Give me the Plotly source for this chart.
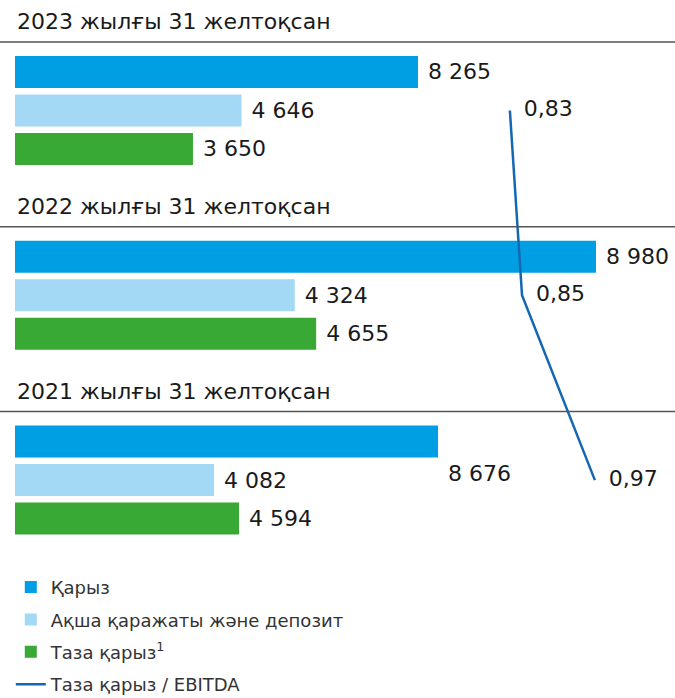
import plotly.graph_objects as go

# ---- data ----
headers = ["2023 жылғы 31 желтоқсан", "2022 жылғы 31 желтоқсан", "2021 жылғы 31 желтоқсан"]
series_names = ["Қарыз", "Ақша қаражаты және депозит", "Таза қарыз<sup>1</sup>"]
debt = [8265, 8980, 8676]
cash = [4646, 4324, 4082]
net_debt = [3650, 4655, 4594]
ratio = [0.83, 0.85, 0.97]
line_name = "Таза қарыз / EBITDA"

colors = ["#009FE3", "#A3D9F5", "#39A935"]
line_color = "#1467B3"
FONT = "DejaVu Sans"

series_values = [debt, cash, net_debt]
group_axis = ["x", "x2", "x"]   # the 2022 block is drawn on its own scale in the source
GROUP_STEP = 4.8
BAR_W = 0.83

def pos(g, s):
    return g * GROUP_STEP + s

fig = go.Figure()

for s, (name, vals) in enumerate(zip(series_names, series_values)):
    for ax in ["x", "x2"]:
        gs = [g for g in range(3) if group_axis[g] == ax]
        labelled = [g for g in gs if not (g == 2 and s == 0)]
        unlabelled = [g for g in gs if (g == 2 and s == 0)]
        fig.add_trace(go.Bar(
            x=[vals[g] for g in labelled],
            y=[pos(g, s) for g in labelled],
            orientation="h",
            width=BAR_W,
            marker=dict(color=colors[s], line=dict(width=0)),
            name=name,
            legendgroup=f"s{s}",
            showlegend=(ax == "x"),
            texttemplate=" %{x:,.0f}",
            textposition="outside",
            textfont=dict(family=FONT, size=22, color="#1a1a1a"),
            cliponaxis=False,
            xaxis=ax,
            yaxis="y",
            hoverinfo="skip",
        ))
        if unlabelled:
            fig.add_trace(go.Bar(
                x=[vals[g] for g in unlabelled],
                y=[pos(g, s) for g in unlabelled],
                orientation="h",
                width=BAR_W,
                marker=dict(color=colors[s], line=dict(width=0)),
                name=name,
                legendgroup=f"s{s}",
                showlegend=False,
                textposition="none",
                xaxis=ax,
                yaxis="y",
                hoverinfo="skip",
            ))

fig.add_trace(go.Scatter(
    x=ratio,
    y=[pos(g, 1) for g in range(3)],
    mode="lines+text",
    line=dict(color=line_color, width=2.5),
    name=line_name,
    legendgroup="line",
    texttemplate="  %{x:.2f}",
    textposition="middle right",
    textfont=dict(family=FONT, size=22, color="#1a1a1a"),
    cliponaxis=False,
    xaxis="x3",
    yaxis="y",
    hoverinfo="skip",
))

annotations = []
shapes = []
for g, h in enumerate(headers):
    annotations.append(dict(
        x=0.022, xref="paper", y=pos(g, 0) - 1.3, yref="y",
        text=h, showarrow=False, xanchor="left", yanchor="middle",
        font=dict(family=FONT, size=22, color="#1a1a1a"),
    ))
    shapes.append(dict(
        type="line", xref="paper", x0=0, x1=1, yref="y",
        y0=pos(g, 0) - 0.78, y1=pos(g, 0) - 0.78,
        line=dict(color="#555555", width=1.5),
    ))

annotations.append(dict(
    x=debt[2], xref="x", y=pos(2, 0) + 0.83, yref="y",
    text=f"{debt[2]:,}".replace(",", " "), showarrow=False,
    xanchor="left", yanchor="middle", xshift=8,
    font=dict(family=FONT, size=22, color="#1a1a1a"),
))

fig.update_layout(
    width=675, height=698,
    margin=dict(l=0, r=0, t=0, b=0, autoexpand=False),
    paper_bgcolor="white", plot_bgcolor="white",
    separators=", ",
    barmode="overlay",
    font=dict(family=FONT, color="#333333"),
    xaxis=dict(range=[-307.6, 13536], visible=False, fixedrange=True),
    xaxis2=dict(range=[-231.8, 10201], overlaying="x", visible=False, fixedrange=True),
    xaxis3=dict(range=[-0.0099, 1.102], overlaying="x", visible=False, fixedrange=True),
    yaxis=dict(range=[16.26, -1.87], visible=False, fixedrange=True),
    legend=dict(
        x=0.016, xanchor="left", y=0.185, yanchor="top",
        font=dict(family=FONT, size=18, color="#333333"),
        tracegroupgap=6, bgcolor="rgba(0,0,0,0)",
        traceorder="grouped",
    ),
    annotations=annotations,
    shapes=shapes,
)

fig.write_html("out.html", config={"displayModeBar": False},
               post_script="document.body.style.margin='0px';")
